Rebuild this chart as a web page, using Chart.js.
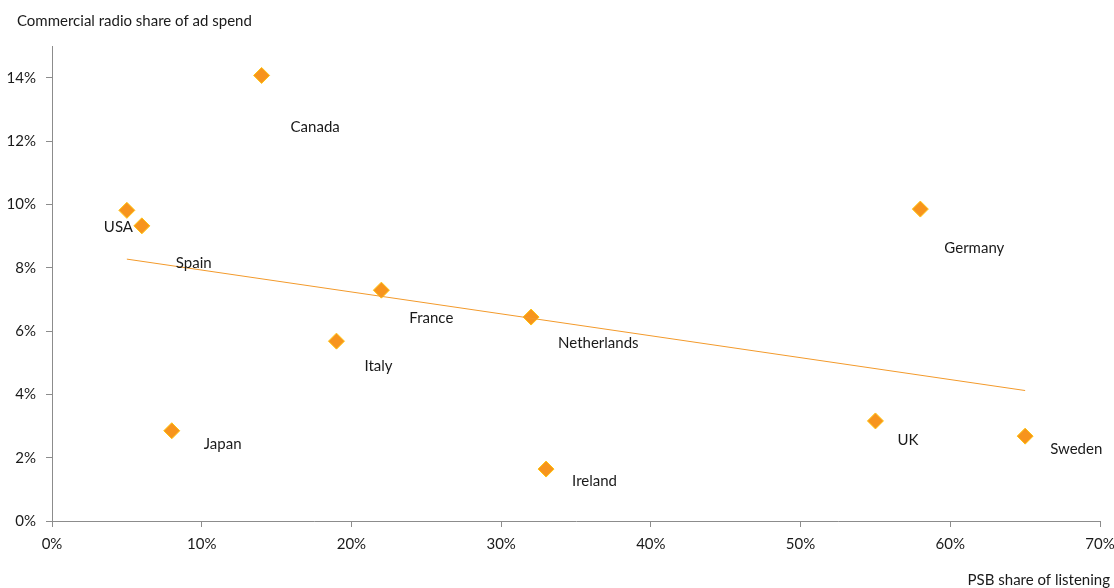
<!DOCTYPE html>
<html>
<head>
<meta charset="utf-8">
<script src="https://cdn.jsdelivr.net/npm/chart.js@4.4.1/dist/chart.umd.min.js"></script>
<style>
  html, body { margin: 0; padding: 0; background: #ffffff; }
  #wrap { width: 1114px; height: 588px; position: relative; }
</style>
</head>
<body>
<div id="wrap"><canvas id="c" width="1114" height="588"></canvas></div>
<script>
// Countries, public-broadcaster share of radio listening (%) and
// commercial radio share of advertising spend (%)
const countries = ['Canada', 'USA', 'Spain', 'Japan', 'Italy', 'France', 'Netherlands', 'Ireland', 'Germany', 'UK', 'Sweden'];
const psbShare = [14, 5, 6, 8, 19, 22, 32, 33, 58, 55, 65];
const radioAdShare = [14.07, 9.81, 9.32, 2.85, 5.68, 7.29, 6.44, 1.64, 9.85, 3.16, 2.68];

// Linear trend line end points
const trendX = [5, 65];
const trendY = [8.27, 4.12];

// Axis tick values
const xTicks = [0, 10, 20, 30, 40, 50, 60, 70];
const yTicks = [0, 2, 4, 6, 8, 10, 12, 14];

const FONT = 'Lato, "Open Sans", sans-serif';
const TEXT = '#1a1a1a';
const AXIS = '#8c8c8c';

// Where each country name sits relative to its marker (text left edge, text middle)
const labelOffsets = {
  Canada: [29, 52], USA: [-23, 17], Spain: [34, 37], Japan: [32, 13],
  Italy: [28, 25], France: [28, 28], Netherlands: [27, 26], Ireland: [26, 12],
  Germany: [24, 39], UK: [22, 19], Sweden: [25, 13]
};

const pointLabels = {
  id: 'pointLabels',
  afterDatasetsDraw(chart) {
    const ctx = chart.ctx;
    const meta = chart.getDatasetMeta(1);
    ctx.save();
    ctx.font = '15px ' + FONT;
    ctx.fillStyle = TEXT;
    ctx.textAlign = 'left';
    ctx.textBaseline = 'middle';
    meta.data.forEach((pt, i) => {
      const name = countries[i];
      const off = labelOffsets[name] || [10, 10];
      ctx.fillText(name, pt.x + off[0], pt.y + off[1]);
    });
    ctx.restore();
  }
};

const axisTitles = {
  id: 'axisTitles',
  afterDraw(chart) {
    const ctx = chart.ctx;
    ctx.save();
    ctx.font = '15px ' + FONT;
    ctx.fillStyle = TEXT;
    ctx.textBaseline = 'middle';
    ctx.textAlign = 'left';
    ctx.fillText('Commercial radio share of ad spend', 17, 21);
    ctx.textAlign = 'right';
    ctx.fillText('PSB share of listening', 1110, 580);
    ctx.restore();
  }
};

const scatterData = psbShare.map((x, i) => ({ x: x, y: radioAdShare[i] }));
const trendData = trendX.map((x, i) => ({ x: x, y: trendY[i] }));

new Chart(document.getElementById('c'), {
  type: 'scatter',
  data: {
    datasets: [
      {
        type: 'line',
        data: trendData,
        borderColor: '#F39A2B',
        borderWidth: 1,
        pointRadius: 0,
        fill: false,
        tension: 0
      },
      {
        data: scatterData,
        pointStyle: 'rectRot',
        pointRadius: 8,
        pointHoverRadius: 8,
        backgroundColor: '#F7941D',
        borderColor: '#FFC20E',
        borderWidth: 1
      }
    ]
  },
  options: {
    responsive: false,
    animation: false,
    devicePixelRatio: 1,
    layout: { padding: { top: 46, right: 14, left: 0, bottom: 0 } },
    plugins: {
      legend: { display: false },
      tooltip: { enabled: false }
    },
    scales: {
      x: {
        type: 'linear',
        min: 0,
        max: 70,
        afterBuildTicks(scale) { scale.ticks = xTicks.map(v => ({ value: v })); },
        afterFit(scale) {
          scale.height = 67;
          scale.paddingLeft = 0;
          scale.paddingRight = 0;
        },
        border: { display: true, color: AXIS, width: 1 },
        grid: { drawOnChartArea: false, drawTicks: true, tickLength: 6, color: AXIS },
        ticks: {
          padding: 8,
          color: TEXT,
          font: { family: FONT, size: 15 },
          maxRotation: 0,
          callback: v => v + '%'
        }
      },
      y: {
        type: 'linear',
        min: 0,
        max: 15,
        afterBuildTicks(scale) { scale.ticks = yTicks.map(v => ({ value: v })); },
        afterFit(scale) {
          scale.width = 52;
          scale.paddingTop = 0;
          scale.paddingBottom = 0;
        },
        border: { display: true, color: AXIS, width: 1 },
        grid: { drawOnChartArea: false, drawTicks: true, tickLength: 6, color: AXIS },
        ticks: {
          padding: 10,
          color: TEXT,
          font: { family: FONT, size: 15 },
          callback: v => v + '%'
        }
      }
    }
  },
  plugins: [pointLabels, axisTitles]
});
</script>
</body>
</html>
